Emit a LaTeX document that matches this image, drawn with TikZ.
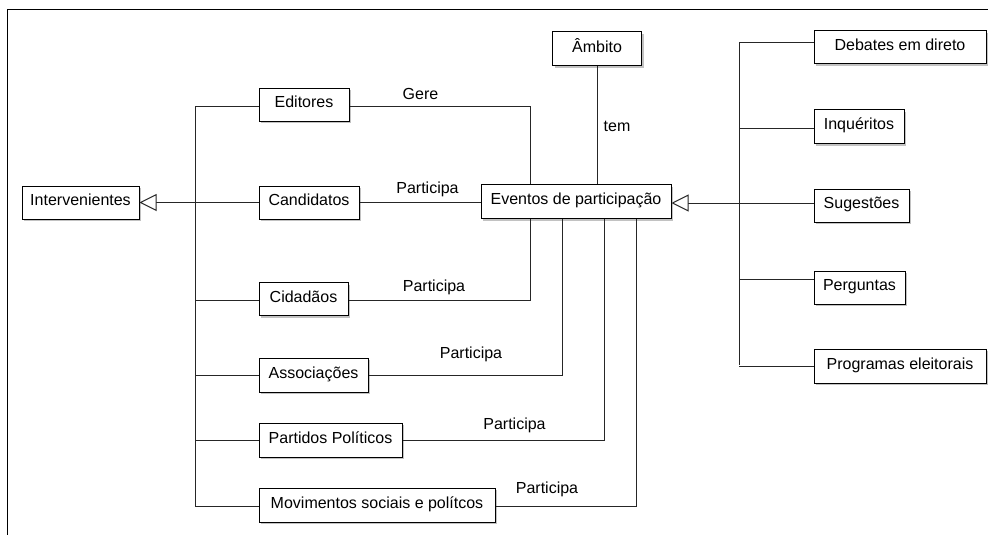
\documentclass[tikz,border=0pt]{standalone}
\usepackage{fontspec}
\setmainfont{Liberation Sans}
\usetikzlibrary{arrows.meta,shadows}
\begin{document}
\begin{tikzpicture}[x=1pt,y=-1pt,
  box/.style={draw=black,line width=1pt,fill=white,inner sep=0pt,
    text height=11.5pt,text depth=5pt,
    drop shadow={shadow xshift=2pt,shadow yshift=-2pt,fill=black!40,opacity=.6}},
  conn/.style={draw=black!85,line width=1pt},
  gen/.style={conn,-{Triangle[open,length=17pt,width=17pt,fill=white]}},
  lbl/.style={inner sep=0pt},
  every node/.append style={font=\fontsize{16}{19}\selectfont}]
\useasboundingbox (0,0) rectangle (988,535);
\draw[line width=1pt] (7,535) -- (7,10) -- (988,10);

% boxes
\node[box,minimum width=117pt,minimum height=33pt] (int) at (80.5,202.5) {Intervenientes};
\node[box,minimum width=90pt,minimum height=33pt] (ed) at (304,104.5) {Editores};
\node[box,minimum width=100pt,minimum height=33pt] (cand) at (309,202.5) {Candidatos};
\node[box,minimum width=89pt,minimum height=33pt] (cid) at (303.5,299) {Cidadãos};
\node[box,minimum width=109pt,minimum height=34pt] (ass) at (313.5,375) {Associações};
\node[box,minimum width=143pt,minimum height=34pt] (par) at (330.5,440) {Partidos Políticos};
\node[box,minimum width=236pt,minimum height=34pt] (mov) at (377,505) {Movimentos sociais e polítcos};
\node[box,minimum width=190pt,minimum height=34pt] (ev) at (576,201.5) {Eventos de participação};
\node[box,minimum width=89pt,minimum height=34pt] (amb) at (597,49) {Âmbito};
\node[box,minimum width=172pt,minimum height=33pt] (deb) at (900,47.5) {Debates em direto};
\node[box,minimum width=90pt,minimum height=34pt] (inq) at (859,126.5) {Inquéritos};
\node[box,minimum width=95pt,minimum height=33pt] (sug) at (861.5,205.5) {Sugestões};
\node[box,minimum width=91pt,minimum height=33pt] (per) at (859.5,287.5) {Perguntas};
\node[box,minimum width=172pt,minimum height=34pt] (prog) at (900,366) {Programas eleitorais};

% left generalisation tree
\coordinate (lbtop) at (195,106);
\coordinate (lbbot) at (195,506);
\draw[conn] (lbtop) -- (lbbot);
\draw[conn] ([yshift=-1.5pt]ed.west) -- ([yshift=-1.5pt]ed.west -| lbtop);
\draw[conn] ([yshift=-1pt]cid.west) -- ([yshift=-1pt]cid.west -| lbtop);
\draw[conn] (ass.west) -- (ass.west -| lbtop);
\draw[conn] (par.west) -- (par.west -| lbtop);
\draw[conn] ([yshift=-1pt]mov.west) -- ([yshift=-1pt]mov.west -| lbtop);
\draw[gen] (cand.west) -- (cand.west -| int.east);

% right generalisation tree
\coordinate (rbtop) at (739,43);
\coordinate (rbbot) at (739,365);
\draw[conn] (rbtop) -- (rbbot);
\draw[conn] ([yshift=4.5pt]deb.west) -- ([yshift=4.5pt]deb.west -| rbtop);
\draw[conn] ([yshift=-1.5pt]inq.west) -- ([yshift=-1.5pt]inq.west -| rbtop);
\draw[conn] ([yshift=8.5pt]per.west) -- ([yshift=8.5pt]per.west -| rbtop);
\draw[conn] (prog.west) -- (prog.west -| rbtop);
\draw[gen] ([yshift=2.5pt]sug.west) -- ([yshift=2.5pt]sug.west -| ev.east);

% associations
\draw[conn] ([yshift=-1.5pt]ed.east) -| ([xshift=-46pt]ev.north);
\draw[conn] (cand.east) -- (cand.east -| ev.west);
\draw[conn] (amb.south) -- (amb.south |- ev.north);
\draw[conn] ([yshift=-1pt]cid.east) -| ([xshift=-46pt]ev.south);
\draw[conn] (ass.east) -| ([xshift=-14pt]ev.south);
\draw[conn] (par.east) -| ([xshift=28pt]ev.south);
\draw[conn] ([yshift=-1pt]mov.east) -| ([xshift=60.5pt]ev.south);

% labels
\node[lbl] (lgere) at (420.5,94) {Gere};
\node[lbl] (lcand) at (427.5,189) {Participa};
\node[lbl] (lcid) at (434,287.5) {Participa};
\node[lbl] (lass) at (471,354) {Participa};
\node[lbl] (lpar) at (514.5,425) {Participa};
\node[lbl] (lmov) at (547,489) {Participa};
\node[lbl] (ltem) at (617,126) {tem};
\end{tikzpicture}
\end{document}
